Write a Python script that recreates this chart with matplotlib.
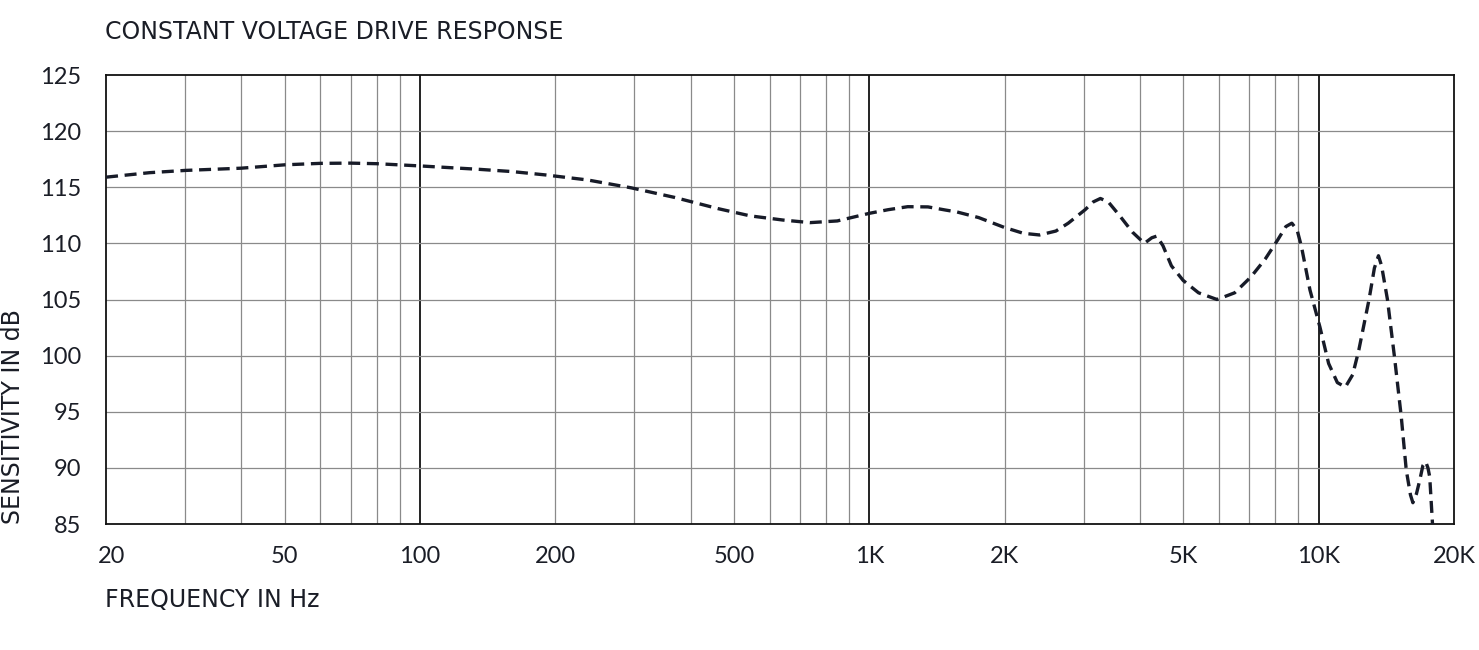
import numpy as np
import matplotlib.pyplot as plt
import matplotlib.transforms as mtransforms
from matplotlib.ticker import FixedLocator, NullFormatter

# frequency response (Hz, dB)
freq = [20, 25, 30, 40, 50, 60, 70, 80, 100, 135, 160, 190, 236, 295, 368, 460,
        543, 642, 738, 848, 1000, 1100, 1217, 1350, 1477, 1566, 1750, 1994, 2200,
        2391, 2600, 2770, 3020, 3150, 3266, 3400, 3600, 3850, 4092, 4250, 4360,
        4500, 4700, 4992, 5400, 5938, 6500, 7060, 7600, 8100, 8450, 8712, 8950,
        9154, 9560, 10060, 10520, 11000, 11460, 11900, 12280, 12940, 13300, 13580,
        13800, 14220, 14740, 15260, 15660, 16000, 16200, 16500, 16780, 17050,
        17300, 17500, 17660, 17920]
level = [115.9, 116.3, 116.5, 116.7, 117.0, 117.13, 117.15, 117.1, 116.9, 116.6,
         116.4, 116.1, 115.65, 114.95, 114.1, 113.1, 112.45, 112.08, 111.85, 112.0,
         112.68, 113.0, 113.27, 113.25, 112.97, 112.8, 112.3, 111.43, 110.9, 110.75,
         111.1, 111.8, 113.0, 113.7, 114.0, 113.7, 112.5, 111.0, 110.0, 110.5,
         110.65, 109.8, 108.0, 106.7, 105.6, 105.0, 105.6, 107.0, 108.6, 110.3,
         111.5, 111.8, 111.2, 109.7, 105.85, 102.55, 99.3, 97.6, 97.2, 98.3, 100.5,
         105.0, 107.8, 108.9, 108.0, 105.0, 99.9, 94.6, 89.8, 87.6, 86.9, 87.7,
         88.9, 90.2, 90.55, 90.0, 89.2, 84.9]

xticks = [20, 50, 100, 200, 500, 1000, 2000, 5000, 10000, 20000]
xlabels = ["20", "50", "100", "200", "500", "1K", "2K", "5K", "10K", "20K"]
yticks = [85, 90, 95, 100, 105, 110, 115, 120, 125]
major_lines = [100, 1000, 10000]
minor_lines = [30, 40, 50, 60, 70, 80, 90, 200, 300, 400, 500, 600, 700, 800, 900,
               2000, 3000, 4000, 5000, 6000, 7000, 8000, 9000]

plt.rcParams['font.family'] = ['Lato', 'DejaVu Sans']
txt = '#1a1d26'
label_font = ['DejaVu Sans']

fig = plt.figure(figsize=(14.79, 6.5), dpi=100)
ax = fig.add_axes([0.0717, 0.1938, 0.9114, 0.6908])

ax.set_xscale('log')
ax.set_xlim(20, 20000)
ax.set_ylim(85, 125)

for f in minor_lines:
    ax.axvline(f, color='#8a8a8a', lw=0.9, zorder=1)
for f in major_lines:
    ax.axvline(f, color='#111111', lw=1.3, zorder=1)
for v in yticks[1:-1]:
    ax.axhline(v, color='#8a8a8a', lw=0.9, zorder=1)

line, = ax.plot(freq, level, color='#171b28', lw=2.4, zorder=3)
line.set_dashes((3.6, 2.0))

ax.xaxis.set_major_locator(FixedLocator(xticks))
ax.xaxis.set_minor_locator(FixedLocator([]))
ax.xaxis.set_minor_formatter(NullFormatter())
ax.set_xticklabels(xlabels)
ax.set_yticks(yticks)
ax.tick_params(axis='both', length=0, labelsize=17, colors=txt)
ax.tick_params(axis='x', pad=16)
ax.tick_params(axis='y', pad=18)

# the "20" label sits a little right of its tick in the original
first = ax.get_xticklabels()[0]
first.set_transform(first.get_transform() +
                    mtransforms.ScaledTranslation(6 / 100, 0, fig.dpi_scale_trans))

for s in ax.spines.values():
    s.set_color('#111111')
    s.set_linewidth(1.3)

fig.text(0.071, 0.951, "CONSTANT VOLTAGE DRIVE RESPONSE", fontsize=17,
         color=txt, ha='left', va='center', family=label_font)
fig.text(0.071, 0.077, "FREQUENCY IN Hz", fontsize=17, color=txt,
         ha='left', va='center', family=label_font)
fig.text(0.001, 0.1938, "SENSITIVITY IN dB", fontsize=17, color=txt,
         rotation=90, ha='left', va='bottom', family=label_font)

fig.savefig('out.png', dpi=100)
